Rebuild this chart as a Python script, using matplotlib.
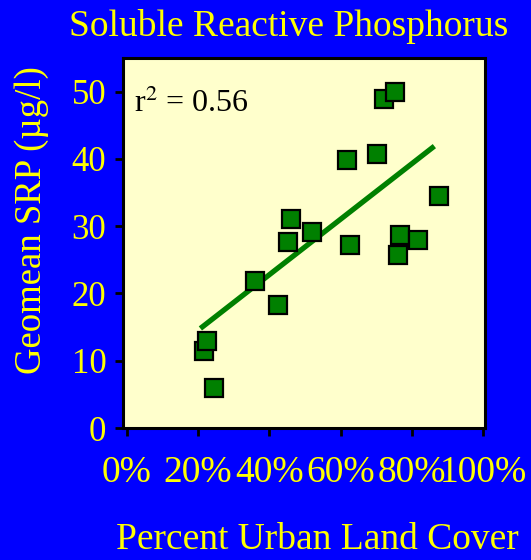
import matplotlib
matplotlib.use("Agg")
import matplotlib.pyplot as plt
from matplotlib.ticker import PercentFormatter

plt.rcParams['font.family'] = ['Liberation Serif', 'DejaVu Serif']
plt.rcParams['mathtext.fontset'] = 'stix'

# percent urban land cover vs geomean SRP
urban_pct = [72.3, 75.4, 61.8, 70.3, 87.5, 46.1, 51.9, 45.3, 62.6,
             76.8, 81.8, 76.1, 36.0, 42.5, 21.6, 22.5, 24.6]
srp = [48.9, 49.9, 39.8, 40.7, 34.5, 31.0, 29.1, 27.6, 27.2,
       28.7, 28.0, 25.7, 21.8, 18.3, 11.4, 12.9, 6.0]

# regression line end points
trend_x = [20.7, 86.3]
trend_y = [14.8, 41.9]

x_ticks = [0, 20, 40, 60, 80, 100]
y_ticks = [0, 10, 20, 30, 40, 50]

yellow = '#FFFF00'
green = '#008000'

fig = plt.figure(figsize=(5.31, 5.6), dpi=100, facecolor='#0000FF')
ax = fig.add_axes([0.2316, 0.2357, 0.6818, 0.6607])
ax.set_facecolor('#FFFFCC')

ax.plot(trend_x, trend_y, color=green, lw=3.8, solid_capstyle='butt', zorder=2)
ax.plot(urban_pct, srp, 's', ms=13.5, mfc=green, mec='black', mew=1.6, zorder=3)

ax.set_xlim(-1, 100.5)
ax.set_ylim(0, 55)
ax.set_xticks(x_ticks)
ax.set_yticks(y_ticks)
ax.xaxis.set_major_formatter(PercentFormatter(decimals=0))

for s in ax.spines.values():
    s.set_linewidth(2.2)
    s.set_color('black')
ax.tick_params(direction='out', length=6, width=2, color='black',
               labelcolor=yellow, labelsize=25, pad=6)
ax.tick_params(axis='x', pad=14, labelsize=27)

ax.text(0.03, 0.854, r'r$^2$ = 0.56', transform=ax.transAxes,
        fontsize=23, color='black')

fig.text(0.543, 0.952, 'Soluble Reactive Phosphorus', ha='center', va='center',
         fontsize=27, color=yellow)
fig.text(0.597, 0.036, 'Percent Urban Land Cover', ha='center', va='center',
         fontsize=27, color=yellow)
fig.text(0.06, 0.607, u'Geomean SRP (\u00b5g/l)', ha='center', va='center',
         rotation=90, fontsize=26.5, color=yellow)

fig.savefig('out.png', dpi=100, facecolor=fig.get_facecolor())
